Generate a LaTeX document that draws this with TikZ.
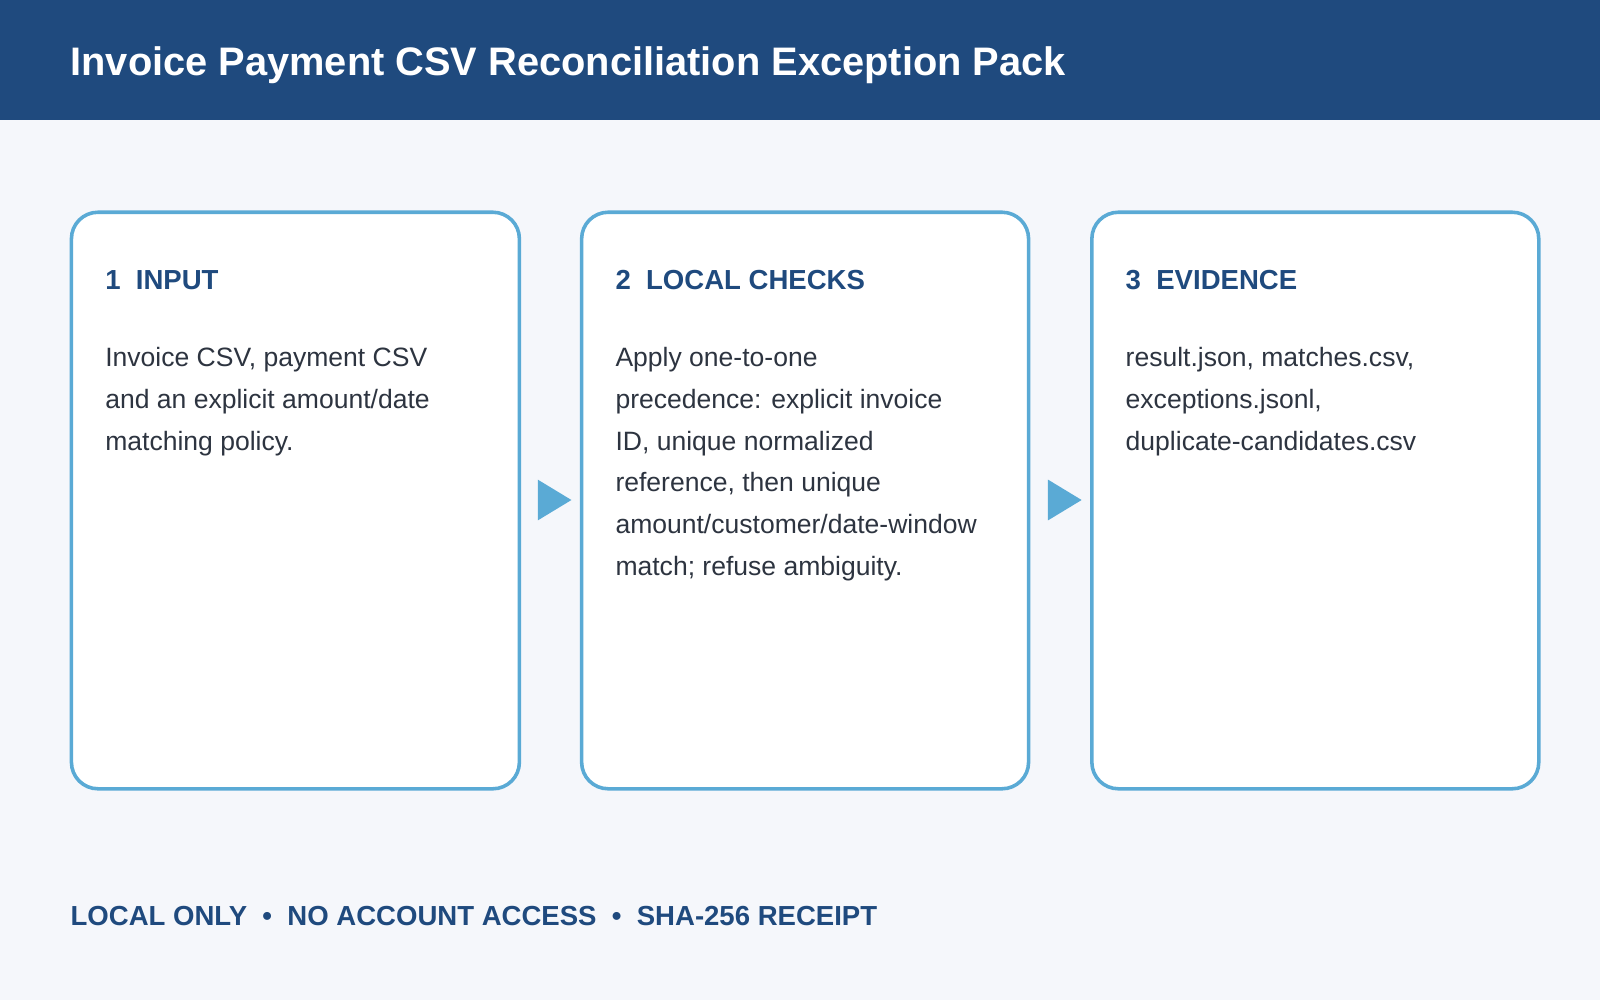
\documentclass[tikz,border=0pt]{standalone}
\usepackage{fontspec}
\setmainfont{Liberation Sans}
\definecolor{navy}{HTML}{1F4A7E}
\definecolor{bg}{HTML}{F5F7FB}
\definecolor{edge}{HTML}{5AAAD5}
\definecolor{body}{HTML}{2D3440}
\begin{document}
\begin{tikzpicture}[x=1pt,y=-1pt,
  box/.style={draw=edge,line width=3.5pt,fill=white,rounded corners=26pt},
  head/.style={anchor=north west,inner sep=0pt,text=navy,font=\fontsize{27}{32}\selectfont\bfseries},
  txt/.style={anchor=north west,inner sep=0pt,text=body,align=left,font=\fontsize{26}{41}\selectfont},
  tri/.style={fill=edge,draw=none}]
\useasboundingbox (0,0) rectangle (1568,980);
\fill[bg] (0,0) rectangle (1568,980);
\fill[navy] (0,0) rectangle (1568,118);
\node[anchor=base west,inner sep=0pt,text=white,font=\fontsize{39}{45}\selectfont\bfseries] (title) at (69,74) {Invoice Payment CSV Reconciliation Exception Pack};
\draw[box] (70,208) rectangle (509,773);
\draw[box] (570,208) rectangle (1008,773);
\draw[box] (1070,208) rectangle (1508,773);
\node[head] (h1) at (103,265) {1\ \ INPUT};
\node[head] (h2) at (603,265) {2\ \ LOCAL CHECKS};
\node[head] (h3) at (1103,265) {3\ \ EVIDENCE};
\node[txt] (t1) at (103,340) {Invoice CSV, payment CSV\\and an explicit amount/date\\matching policy.};
\node[txt] (t2) at (603,340) {Apply one-to-one\\precedence: explicit invoice\\ID, unique normalized\\reference, then unique\\amount/customer/date-window\\match; refuse ambiguity.};
\node[txt] (t3) at (1103,340) {result.json, matches.csv,\\exceptions.jsonl,\\duplicate-candidates.csv};
\fill[tri] (527,470) -- (560,490) -- (527,510) -- cycle;
\fill[tri] (1027,470) -- (1060,490) -- (1027,510) -- cycle;
\node[anchor=base west,inner sep=0pt,text=navy,font=\fontsize{27}{32}\selectfont\bfseries] (foot) at (69,907) {LOCAL ONLY\ \ •\ \ NO ACCOUNT ACCESS\ \ •\ \ SHA-256 RECEIPT};
\end{tikzpicture}
\end{document}
